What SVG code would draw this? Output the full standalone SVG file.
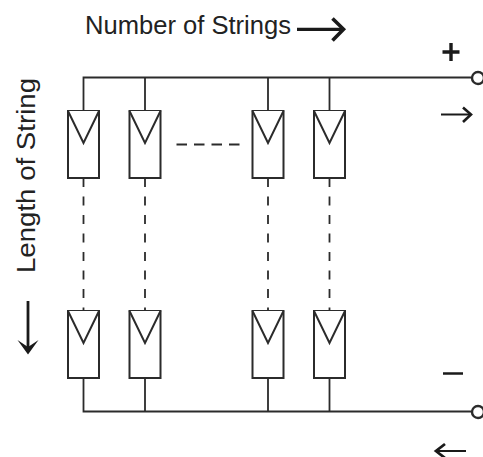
<svg xmlns="http://www.w3.org/2000/svg" width="483" height="457" viewBox="0 0 483 457">
<defs>
<g id="cell"><rect x="-15.500" y="0" width="31" height="67"/><path d="M-15.500 0L0 32L15.500 0"/></g>
</defs>
<style>
.w{fill:none;stroke:#2b2b2b;stroke-width:1.8}
.d{fill:none;stroke:#2b2b2b;stroke-width:1.8;stroke-dasharray:9 9.500}
.h{fill:none;stroke:#2b2b2b;stroke-width:2;stroke-dasharray:10.500 7}
.c{fill:#fff;stroke:#2b2b2b;stroke-width:2.400}
.t{font-family:"Liberation Sans",Arial,sans-serif;font-size:25.5px;fill:#222}
.a{fill:none;stroke:#1a1a1a;stroke-linejoin:miter}
use{fill:#fff;stroke:#2b2b2b;stroke-width:2}
</style>
<rect width="483" height="457" fill="#fff"/>
<g id="connectors">
<path class="w" d="M472 77.500H83.500V111M145 77.500V111M268 77.500V111M329.500 77.500V111"/>
<path class="w" d="M472 411.500H83.500V378M145 411.500V378M268 411.500V378M329.500 411.500V378"/>
<path class="d" d="M83.500 178V311M145 178V311M268 178V311M329.500 178V311"/>
<path class="h" d="M176.500 144.500H240"/>
</g>
<g id="cell-1-top"><use href="#cell" x="83.500" y="111"/></g>
<g id="cell-2-top"><use href="#cell" x="145" y="111"/></g>
<g id="cell-3-top"><use href="#cell" x="268" y="111"/></g>
<g id="cell-4-top"><use href="#cell" x="329.500" y="111"/></g>
<g id="cell-1-bottom"><use href="#cell" x="83.500" y="311"/></g>
<g id="cell-2-bottom"><use href="#cell" x="145" y="311"/></g>
<g id="cell-3-bottom"><use href="#cell" x="268" y="311"/></g>
<g id="cell-4-bottom"><use href="#cell" x="329.500" y="311"/></g>
<g id="terminal-plus"><circle class="c" cx="478" cy="78" r="6"/></g>
<g id="terminal-minus"><circle class="c" cx="478" cy="412" r="6"/></g>
<g id="labels">
<text class="t" x="85" y="34" textLength="206" lengthAdjust="spacingAndGlyphs">Number of Strings</text>
<text class="t" transform="translate(35 273) rotate(-90)" textLength="195" lengthAdjust="spacingAndGlyphs">Length of String</text>
<path class="a" stroke-width="3.200" d="M297 29.300H343"/><path class="a" stroke-width="3.600" d="M332.500 18.500L343.500 29.300L332.500 40.500"/>
<path class="a" stroke-width="2.800" d="M28 301V350"/><path fill="#1a1a1a" d="M17.500 340L28 354.500L38.500 340L28 347Z"/>
<path class="a" stroke-width="2" d="M441 114.500H470"/><path class="a" stroke-width="2.600" d="M463 107.500L471 114.500L463 122"/>
<path class="a" stroke-width="2" d="M466 451H437"/><path class="a" stroke-width="2.800" d="M445 444L436 451L445 458"/>
<path class="a" stroke-width="3.400" d="M442.500 52H459.500M451 43V61"/>
<path class="a" stroke-width="2.500" d="M443 373.500H463"/>
</g>
</svg>
